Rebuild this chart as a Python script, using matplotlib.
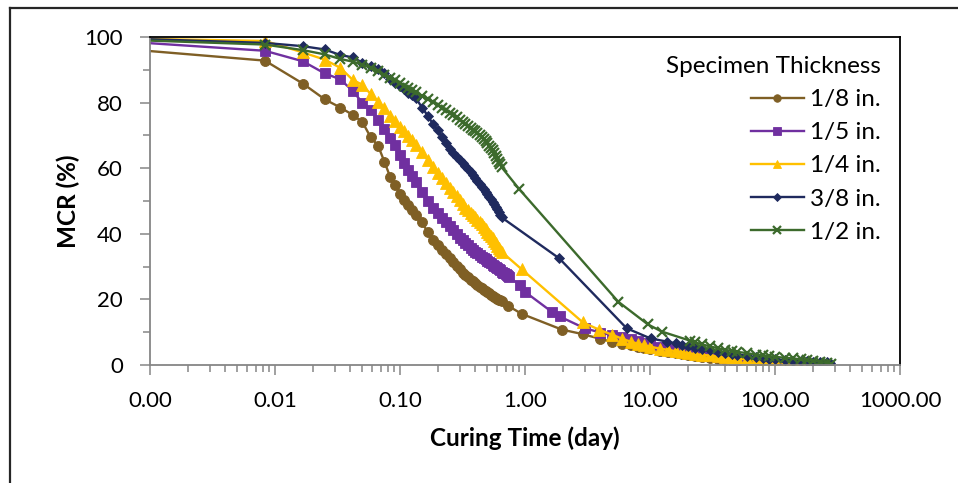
import matplotlib

matplotlib.use("Agg")
import matplotlib.pyplot as plt
from matplotlib.lines import Line2D
from matplotlib.ticker import FixedLocator, FuncFormatter, LogLocator, NullFormatter

plt.rcParams["font.family"] = ["Lato", "DejaVu Sans"]

# readings taken every 12 min during the first day (days)
dense_days = [
    0.0083, 0.0167, 0.025, 0.0333, 0.0417, 0.05, 0.0583, 0.0667, 0.075, 0.0833,
    0.0917, 0.1, 0.1083, 0.1167, 0.125, 0.1333,
    0.15, 0.1667, 0.1833, 0.2, 0.2167, 0.2333, 0.25, 0.2667, 0.2833, 0.3, 0.3167, 0.3333,
    0.35, 0.3667, 0.3833, 0.4, 0.4167, 0.4333, 0.45, 0.4667, 0.4833, 0.5, 0.5167, 0.5333,
    0.55, 0.5667, 0.5833, 0.6, 0.6167, 0.6333, 0.65, 0.6667, 0.6833, 0.7, 0.7167, 0.7333, 0.75,
]
start_day = [0.0007]

# 1/8 in.
mcr_18_start = [96.2]
mcr_18_dense = [
    92.8, 85.8, 81.0, 78.5, 76.3, 74.1, 69.4, 66.9, 62.0, 57.4, 55.0, 52.2, 50.3, 48.8, 47.3, 45.7,
    43.5, 40.5, 38.2, 36.5, 35.2, 33.8, 32.5, 31.3, 30.3, 29.2, 28.2, 27.3,
    26.7, 26.0, 25.5, 24.9, 24.4, 23.9, 23.4, 23.0, 22.6, 22.2, 21.8, 21.4,
    21.1, 20.8, 20.5, 20.2, 19.9, 19.7, 19.4,
]
days_18_tail = [0.735, 0.94, 1.97, 2.9, 3.98, 5.0, 6, 7, 8, 9, 10, 12, 14, 16, 18, 20, 23, 26, 30,
                35, 40, 45, 50, 60, 70, 80, 90]
mcr_18_tail = [18.0, 15.6, 10.8, 9.4, 8.0, 7.0, 6.4, 6.0, 5.6, 5.2, 4.9, 4.4, 4.0, 3.6, 3.3, 3.0,
               2.7, 2.4, 2.1, 1.8, 1.5, 1.3, 1.1, 0.8, 0.6, 0.4, 0.2]

# 1/5 in.
mcr_15_start = [98.5]
mcr_15_dense = [
    95.8, 92.6, 88.9, 87.1, 83.6, 80.0, 77.7, 74.6, 72.0, 69.2, 67.0, 64.0, 61.6, 59.5, 57.6, 55.9,
    52.7, 49.9, 48.0, 46.3, 44.8, 43.5, 42.3, 41.1, 39.9, 38.8, 38.0, 37.3,
    36.5, 35.8, 35.1, 34.6, 34.0, 33.5, 33.0, 32.6, 32.2, 31.8, 31.4, 31.0,
    30.6, 30.3, 29.9, 29.6, 29.2, 28.9, 28.5, 28.2, 27.9, 27.6, 27.3, 27.0, 26.7,
]
days_15_tail = [0.91, 1.0, 1.64, 1.89, 3, 4, 5, 6, 7, 8, 9, 10, 12, 14, 16, 18, 20, 23, 26, 30,
                35, 40, 45, 50, 60, 70, 80, 90, 100, 110]
mcr_15_tail = [24.4, 22.3, 16.2, 14.8, 11.2, 9.9, 9.1, 8.4, 7.8, 7.2, 6.7, 6.3, 5.6, 5.0, 4.6, 4.2,
               3.9, 3.5, 3.1, 2.8, 2.4, 2.1, 1.8, 1.6, 1.2, 0.9, 0.7, 0.5, 0.3, 0.2]

# 1/4 in.
mcr_14_start = [99.5]
mcr_14_dense = [
    98.8, 95.3, 93.1, 90.6, 87.0, 85.4, 82.6, 80.3, 78.3, 75.9, 74.3, 72.7, 71.2, 69.8, 68.5, 67.2,
    64.9, 62.5, 60.4, 58.6, 57.1, 55.5, 54.0, 52.7, 51.4, 50.2, 49.1, 48.0,
    47.2, 46.4, 45.6, 45.0, 44.3, 43.6, 42.9, 42.2, 41.4, 40.6, 40.0, 39.3,
    38.6, 37.9, 37.1, 36.4, 35.8, 35.1, 34.5,
]
days_14_tail = [0.94, 2.9, 3.9, 5.0, 6, 7, 8, 9, 10, 12, 14, 16, 18, 20, 23, 26, 30, 35, 40, 45,
                50, 60, 70, 80, 90, 100, 120, 140, 160, 190]
mcr_14_tail = [29.2, 13.0, 10.8, 9.2, 8.0, 7.1, 6.5, 6.0, 5.6, 5.0, 4.6, 4.2, 3.9, 3.6, 3.3, 3.1,
               2.9, 2.6, 2.4, 2.2, 2.0, 1.7, 1.4, 1.2, 1.0, 0.9, 0.7, 0.5, 0.3, 0.1]

# 3/8 in.
mcr_38_start = [99.5]
mcr_38_dense = [
    98.2, 97.2, 96.2, 94.5, 93.8, 92.2, 91.2, 90.1, 88.9, 87.2, 86.0, 85.0, 84.0, 83.0, 82.3, 81.5,
    78.5, 76.0, 73.5, 71.5, 69.6, 67.7, 65.8, 64.6, 63.5, 62.5, 61.6, 60.8,
    59.8, 58.9, 58.0, 57.1, 56.2, 55.3, 54.4, 53.6, 52.8, 52.0, 51.3, 50.5,
    49.8, 49.0, 48.3, 47.5, 46.7, 45.8, 45.0,
]
days_38_tail = [1.88, 6.5, 10.1, 13.8, 16, 18, 20, 23, 26, 30, 35, 40, 45, 50, 60, 70, 80, 90, 100,
                120, 140, 160, 180, 200, 230, 260, 275]
mcr_38_tail = [32.5, 11.2, 8.1, 7.1, 6.6, 6.2, 5.8, 5.3, 4.9, 4.5, 4.1, 3.8, 3.5, 3.2, 2.8, 2.4,
               2.1, 1.9, 1.7, 1.5, 1.3, 1.2, 1.1, 1.0, 0.9, 0.8, 0.6]

# 1/2 in.
mcr_12_start = [99.1]
mcr_12_dense = [
    97.7, 96.0, 94.7, 93.3, 92.5, 91.6, 90.6, 89.5, 88.5, 87.6, 86.8, 86.0, 85.2, 84.5, 83.8, 83.2,
    82.0, 81.0, 80.1, 79.2, 78.4, 77.6, 76.9, 76.2, 75.5, 74.8, 74.1, 73.4,
    72.8, 72.3, 71.7, 71.2, 70.6, 70.1, 69.5, 68.9, 68.3, 67.6, 66.9, 66.2,
    65.5, 64.6, 63.8, 62.9, 62.0, 61.2, 60.3,
]
days_12_tail = [0.90, 5.57, 9.6, 12.4, 21, 23, 26, 30, 35, 40, 45, 50, 60, 70, 80, 90, 100, 120,
                140, 160, 180, 200, 230, 260, 280]
mcr_12_tail = [53.6, 19.3, 12.4, 10.2, 7.4, 6.9, 6.3, 5.7, 5.1, 4.6, 4.3, 4.0, 3.6, 3.2, 2.9, 2.7,
               2.5, 2.2, 2.0, 1.7, 1.5, 1.3, 1.0, 0.6, 0.3]

labels = ["1/8 in.", "1/5 in.", "1/4 in.", "3/8 in.", "1/2 in."]
x_ticks = [0.001, 0.01, 0.1, 1, 10, 100, 1000]
y_ticks = [0, 20, 40, 60, 80, 100]


def series(start, dense, tail_days, tail):
    days = start_day + dense_days[: len(dense)] + tail_days
    return days, start + dense + tail


def main() -> None:
    W, H = 958, 483
    fig = plt.figure(figsize=(W / 100, H / 100), dpi=100)
    ax = fig.add_axes([150 / W, 1 - 365 / H, 750 / W, 328 / H])

    data = [
        series(mcr_18_start, mcr_18_dense, days_18_tail, mcr_18_tail),
        series(mcr_15_start, mcr_15_dense, days_15_tail, mcr_15_tail),
        series(mcr_14_start, mcr_14_dense, days_14_tail, mcr_14_tail),
        series(mcr_38_start, mcr_38_dense, days_38_tail, mcr_38_tail),
        series(mcr_12_start, mcr_12_dense, days_12_tail, mcr_12_tail),
    ]
    colors = ["#7f5f25", "#7030a0", "#ffc000", "#1f2a5e", "#3c6a2c"]
    markers = ["o", "s", "^", "D", "x"]
    sizes = [7.2, 7.0, 8.2, 5.6, 7.0]

    for (days, mcr), label, color, marker, size in zip(data, labels, colors, markers, sizes):
        ax.plot(days, mcr, color=color, lw=1.7, marker=marker, ms=size, mfc=color, mec=color,
                mew=1.6 if marker == "x" else 0.6, label=label)

    ax.set_xscale("log")
    ax.set_xlim(0.001, 1000)
    ax.set_ylim(0, 100)
    ax.xaxis.set_major_locator(FixedLocator(x_ticks))
    ax.xaxis.set_major_formatter(FuncFormatter(lambda v, _: f"{v:.2f}"))
    ax.xaxis.set_minor_locator(LogLocator(base=10, subs=range(2, 10)))
    ax.xaxis.set_minor_formatter(NullFormatter())
    ax.yaxis.set_major_locator(FixedLocator(y_ticks))
    ax.yaxis.set_minor_locator(FixedLocator([10, 30, 50, 70, 90]))

    grey = "#868686"
    ax.tick_params(axis="both", which="major", direction="out", length=7, width=1.1, color=grey,
                   labelsize=16, labelcolor="black")
    ax.tick_params(axis="both", which="minor", direction="out", length=5, width=1.1, color=grey)
    ax.tick_params(axis="y", which="major", pad=12.5)
    ax.tick_params(axis="x", which="major", pad=12)

    for side in ("left", "bottom"):
        ax.spines[side].set_color(grey)
        ax.spines[side].set_linewidth(1.3)
    for side in ("top", "right"):
        ax.spines[side].set_color("black")
        ax.spines[side].set_linewidth(1.3)

    ax.set_xlabel("Curing Time (day)", fontsize=17.5, fontweight="bold", labelpad=11)
    ax.set_ylabel("MCR (%)", fontsize=17.5, fontweight="bold", labelpad=3)

    ax.legend(title="Specimen Thickness", loc="upper right",
              bbox_to_anchor=(881 / W, 1 - 56 / H), bbox_transform=fig.transFigure,
              frameon=False, alignment="right", fontsize=17.5, title_fontsize=17.5,
              handlelength=2.2, handletextpad=0.25, labelspacing=0.5, borderpad=0,
              borderaxespad=0, markerscale=0.75)

    # outer frame of the original figure (left and top edges only are visible)
    fig.add_artist(Line2D([10 / W, 10 / W], [0, 1 - 8 / H], transform=fig.transFigure,
                          color="#262626", lw=1.6))
    fig.add_artist(Line2D([10 / W, 1], [1 - 8 / H, 1 - 8 / H], transform=fig.transFigure,
                          color="#262626", lw=1.6))

    fig.savefig("out.png", dpi=100)
    plt.close(fig)


if __name__ == "__main__":
    main()
